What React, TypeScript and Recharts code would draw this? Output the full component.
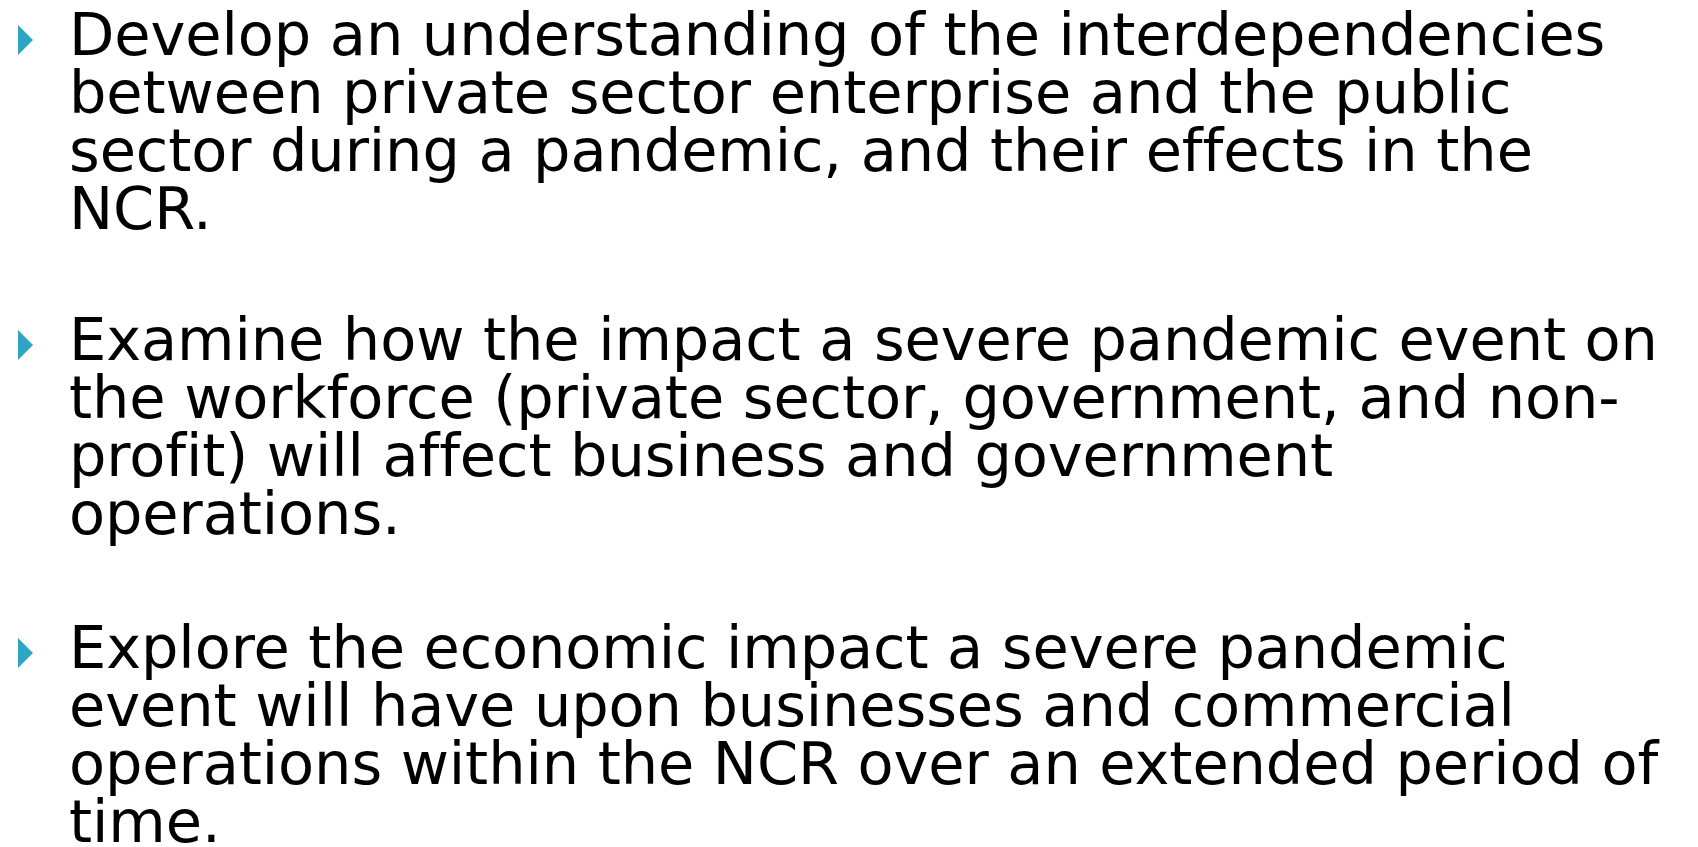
import { Surface, Text, Polygon } from 'recharts';

const bullet1 = [
  'Develop an understanding of the interdependencies',
  'between private sector enterprise and the public',
  'sector during a pandemic, and their effects in the',
  'NCR.',
];
const bullet2 = [
  'Examine how the impact a severe pandemic event on',
  'the workforce (private sector, government, and non-',
  'profit) will affect business and government',
  'operations.',
];
const bullet3 = [
  'Explore the economic impact a severe pandemic',
  'event will have upon businesses and commercial',
  'operations within the NCR over an extended period of',
  'time.',
];

const paragraphs = [bullet1, bullet2, bullet3];
const firstBaselines = [55, 360, 668];

const W = 1698;
const H = 847;
const LINE = 58;
const TEXT_X = 69;

export default function App() {
  return (
    <div style={{ position: 'absolute', left: 0, top: 0, width: W, height: H, background: '#fff' }}>
      <Surface width={W} height={H}>
        {paragraphs.map((lines, p) => {
          const y0 = firstBaselines[p];
          return (
            <g key={p}>
              {/* bullet marker */}
              <Polygon
                points={[
                  { x: 18, y: y0 - 30 },
                  { x: 33, y: y0 - 15 },
                  { x: 18, y: y0 },
                ]}
                fill="#2ea6c1"
              />
              {lines.map((line, i) => (
                <Text
                  key={i}
                  x={TEXT_X}
                  y={y0 + i * LINE}
                  fontSize={59}
                  fontFamily="DejaVu Sans"
                  letterSpacing={-0.1}
                  fill="#000"
                >
                  {line}
                </Text>
              ))}
            </g>
          );
        })}
      </Surface>
    </div>
  );
}
